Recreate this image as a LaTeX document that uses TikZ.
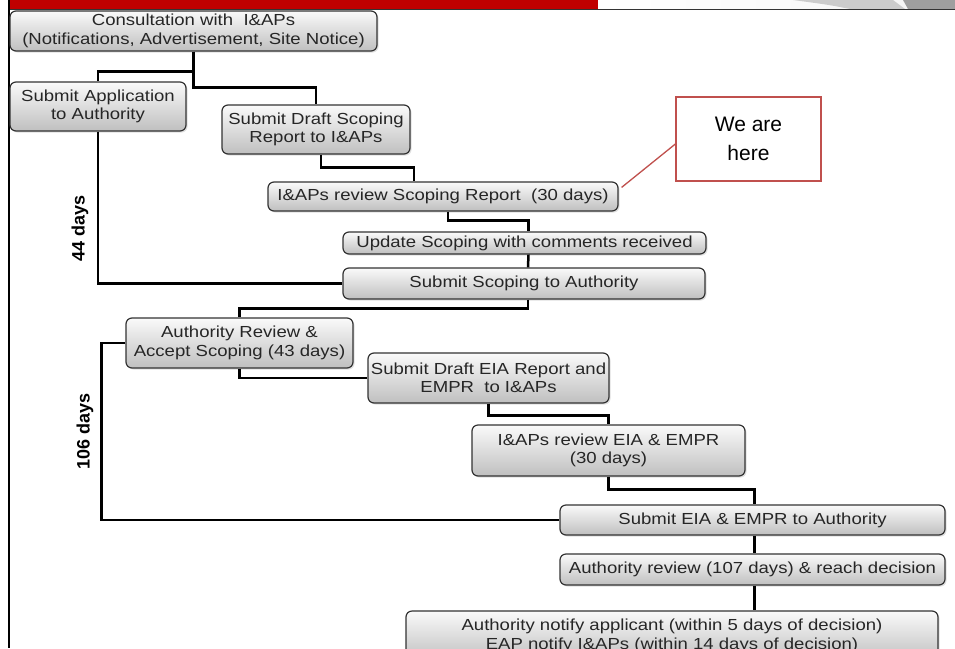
\documentclass[tikz,border=0pt]{standalone}
\usepackage{fontspec}
\setmainfont{Liberation Sans}
\newfontfamily\boxfont[FakeStretch=1.16]{Liberation Sans}
\usetikzlibrary{shadows,calc}
\definecolor{headred}{HTML}{C00000}
\definecolor{callred}{HTML}{C0504D}
\tikzset{
  stage/.style={draw=black!80, line width=1.2pt, rounded corners=6pt,
    top color=gray!4, bottom color=gray!50, align=center, inner sep=0pt,
    font=\boxfont\fontsize{16}{18.5}\selectfont, text=black!85,
    drop shadow={opacity=0.25, shadow xshift=1.5pt, shadow yshift=-1.5pt}},
  conn/.style={line width=2.5pt, black},
  days/.style={rotate=90, font=\bfseries\fontsize{18}{20}\selectfont},
  callout/.style={draw=callred, line width=1.3pt, fill=white, align=center,
    font=\fontsize{21}{29}\selectfont},
  callline/.style={draw=callred, line width=1.3pt}
}
\begin{document}
\begin{tikzpicture}[x=1pt,y=1pt]
\useasboundingbox (0,0) rectangle (955,-648);
\fill[white] (0,0) rectangle (955,-648);
% header
\fill[headred] (8,0) rectangle (598,-9);
\shade[left color=white, right color=gray!8] (598,0) rectangle (955,-9);
\fill[gray!40] (793,0) -- (893,0) -- (905,-9) -- (850,-9) .. controls (830,-5) .. (793,0) -- cycle;
\fill[gray!75] (903,0) -- (955,0) -- (955,-9) -- (908,-9) -- cycle;
\draw[black!80, line width=1pt] (8,-9.5) -- (955,-9.5);
\draw[black, line width=2pt] (9,0) -- (9,-648);

% stages
\node[stage, minimum width=367pt, minimum height=40pt] (b1) at (193.5,-31)
  {Consultation with \ I\&APs\\(Notifications, Advertisement, Site Notice)};
\node[stage, minimum width=176pt, minimum height=49pt] (b2) at (98,-106.5)
  {Submit Application\\to Authority};
\node[stage, minimum width=188pt, minimum height=49pt] (b3) at (316,-129.5)
  {Submit Draft Scoping\\Report to I\&APs};
\node[stage, minimum width=350pt, minimum height=29pt] (b4) at (443,-196.5)
  {I\&APs review Scoping Report \ (30 days)};
\node[stage, minimum width=363pt, minimum height=22pt] (b5) at (524.5,-243)
  {Update Scoping with comments received};
\node[stage, minimum width=362pt, minimum height=31pt] (b6) at (524,-283.5)
  {Submit Scoping to Authority};
\node[stage, minimum width=227pt, minimum height=50pt] (b7) at (239.5,-343)
  {Authority Review \&\\Accept Scoping (43 days)};
\node[stage, minimum width=241pt, minimum height=50pt] (b8) at (488.5,-378)
  {Submit Draft EIA Report and\\EMPR \ to I\&APs};
\node[stage, minimum width=273pt, minimum height=51pt] (b9) at (608.5,-450.5)
  {I\&APs review EIA \& EMPR\\(30 days)};
\node[stage, minimum width=385pt, minimum height=30pt] (b10) at (752.5,-520)
  {Submit EIA \& EMPR to Authority};
\node[stage, minimum width=385pt, minimum height=31pt] (b11) at (752.5,-569.5)
  {Authority review (107 days) \& reach decision};
\node[stage, minimum width=532pt, minimum height=50pt] (b12) at (672,-636)
  {Authority notify applicant (within 5 days of decision)\\EAP notify I\&APs (within 14 days of decision)};

% connectors
\draw[conn] (b1.south) -- ++(0,-20) -| (b2.north);
\draw[conn] (b1.south) -- ++(0,-36) -| (b3.north);
\draw[conn] ([xshift=5pt]b3.south) -- ++(0,-13) -| ([xshift=-29pt]b4.north);
\draw[conn] ([xshift=5pt]b4.south) -- ++(0,-9) -| ([xshift=4pt]b5.north);
\draw[conn] ([xshift=4pt]b5.south) -- ([xshift=4pt]b6.north);
\draw[conn] (b2.south) |- (b6.west);
\draw[conn] ([xshift=4pt]b6.south) -- ++(0,-9) -| (b7.north);
\draw[conn] (b7.west) -- ++(-24,0) |- (b10.west);
\draw[conn] (b7.south) |- (b8.west);
\draw[conn] (b8.south) -- ++(0,-12) -| (b9.north);
\draw[conn] (b9.south) -- ++(0,-13) -| ([xshift=2pt]b10.north);
\draw[conn] ([xshift=2pt]b10.south) -- ([xshift=2pt]b11.north);
\draw[conn] ([xshift=2pt]b11.south) -- ([xshift=2pt]b11.south |- b12.north);

% day labels
\node[days] (d44) at (80,-228) {44 days};
\node[days] (d106) at (85,-431) {106 days};

% callout
\node[callout, minimum width=145pt, minimum height=84pt] (here) at (748.5,-139) {We are\\here};
\draw[callline] ([yshift=-5pt]here.west) -- ([shift={(3pt,-6pt)}]b4.north east);
\end{tikzpicture}
\end{document}
